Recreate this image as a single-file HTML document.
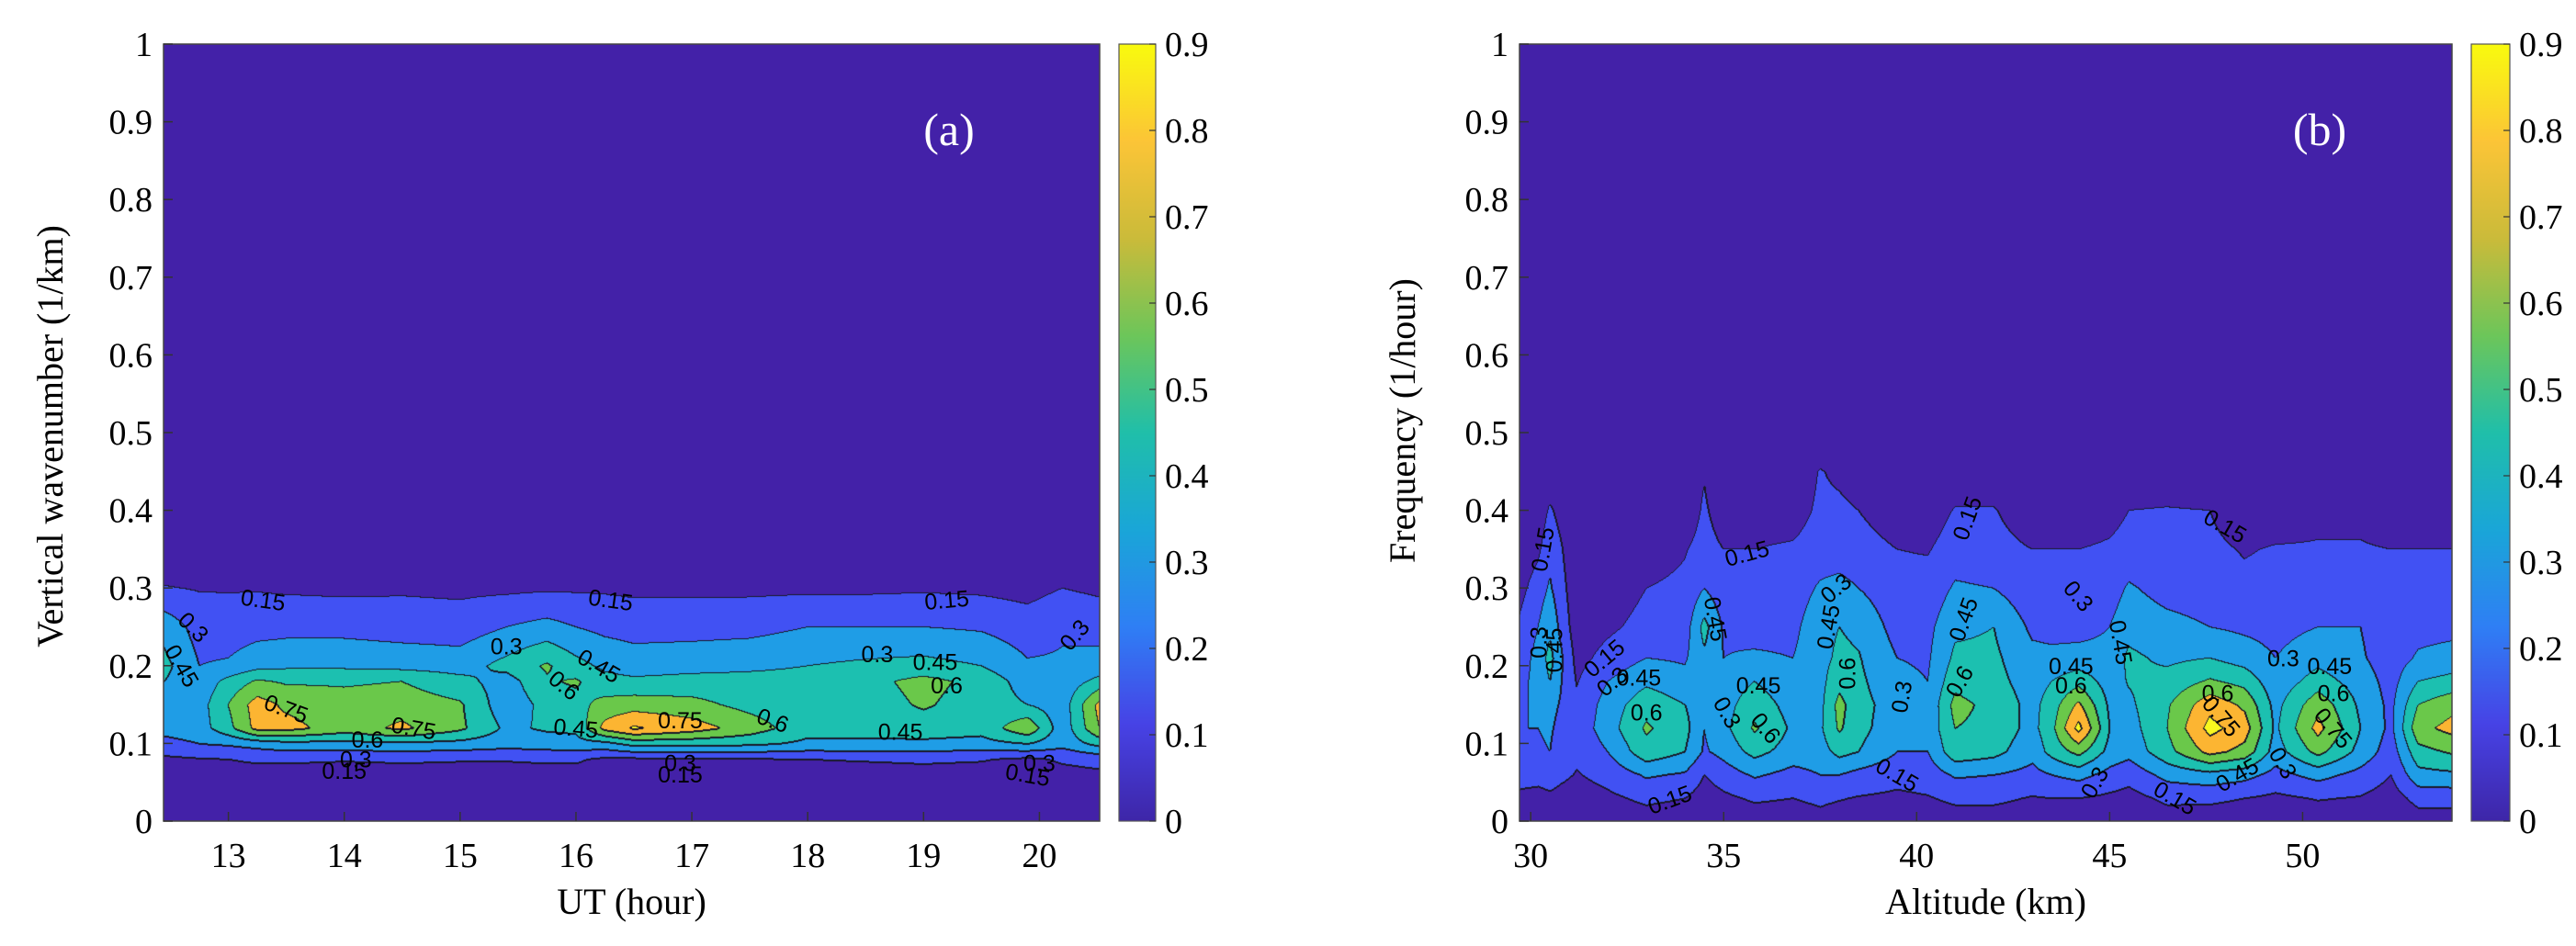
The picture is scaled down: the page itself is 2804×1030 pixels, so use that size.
<!DOCTYPE html>
<html><head><meta charset="utf-8">
<style>
html,body{margin:0;padding:0;background:#fff;}
#wrap{position:relative;width:2804px;height:1030px;overflow:hidden;}
canvas{position:absolute;}
svg{position:absolute;left:0;top:0;}
text{font-family:"Liberation Serif",serif;}
.cl{font-family:"Liberation Sans",sans-serif;font-size:25px;fill:#000;}
</style></head>
<body>
<div id="wrap">
<canvas id="ca" width="1019" height="846" style="left:178px;top:48px"></canvas>
<canvas id="cb" width="1015" height="846" style="left:1654px;top:48px"></canvas>
<canvas id="cba" width="40" height="846" style="left:1218px;top:48px"></canvas>
<canvas id="cbb" width="42" height="846" style="left:2690px;top:48px"></canvas>
<svg id="ov" width="2804" height="1030"></svg>
</div>
<script>
// ---------- Panel (a) data ----------
const aX = [12.44,12.75,13.0,13.25,13.5,14.0,14.5,15.0,15.4,15.75,16.0,16.25,16.5,17.0,17.5,18.0,18.5,19.0,19.5,19.9,20.2,20.52];
const aY = [0,0.05,0.08,0.1,0.12,0.15,0.18,0.2,0.25,0.3,0.35];
const aZ = [
[0.02,0.05,0.12,0.25,0.35,0.40,0.45,0.5,0.4,0.16,0.02],
[0.02,0.05,0.14,0.3,0.38,0.38,0.34,0.3,0.24,0.14,0.02],
[0.02,0.06,0.15,0.32,0.55,0.6,0.5,0.32,0.22,0.14,0.02],
[0.02,0.06,0.17,0.36,0.8,0.82,0.62,0.4,0.24,0.14,0.02],
[0.02,0.06,0.17,0.4,0.8,0.72,0.58,0.42,0.25,0.13,0.02],
[0.02,0.05,0.16,0.4,0.68,0.66,0.58,0.42,0.25,0.12,0.02],
[0.02,0.05,0.17,0.42,0.78,0.68,0.6,0.4,0.23,0.13,0.02],
[0.02,0.06,0.16,0.4,0.63,0.62,0.5,0.38,0.22,0.12,0.02],
[0.02,0.05,0.16,0.36,0.42,0.35,0.38,0.5,0.3,0.12,0.02],
[0.02,0.06,0.17,0.38,0.47,0.5,0.58,0.62,0.35,0.13,0.02],
[0.02,0.06,0.17,0.4,0.48,0.55,0.62,0.5,0.3,0.13,0.02],
[0.02,0.04,0.12,0.4,0.8,0.65,0.5,0.42,0.26,0.13,0.02],
[0.02,0.04,0.12,0.5,0.92,0.68,0.48,0.38,0.24,0.12,0.02],
[0.02,0.04,0.13,0.5,0.82,0.65,0.5,0.4,0.24,0.12,0.02],
[0.02,0.05,0.14,0.48,0.68,0.55,0.5,0.42,0.25,0.12,0.02],
[0.02,0.05,0.15,0.42,0.5,0.5,0.5,0.45,0.3,0.12,0.02],
[0.02,0.06,0.16,0.42,0.5,0.52,0.55,0.48,0.3,0.12,0.02],
[0.02,0.07,0.17,0.42,0.52,0.62,0.65,0.5,0.3,0.13,0.02],
[0.02,0.06,0.16,0.4,0.5,0.52,0.55,0.45,0.28,0.12,0.02],
[0.02,0.05,0.12,0.45,0.72,0.45,0.38,0.32,0.22,0.1,0.02],
[0.02,0.07,0.17,0.35,0.35,0.36,0.35,0.32,0.28,0.15,0.02],
[0.02,0.08,0.2,0.5,0.75,0.8,0.5,0.35,0.25,0.12,0.02]];
const aTicksX = [13,14,15,16,17,18,19,20];
const yTicks = [0,0.1,0.2,0.3,0.4,0.5,0.6,0.7,0.8,0.9,1];
const cbTicks = [0,0.1,0.2,0.3,0.4,0.5,0.6,0.7,0.8,0.9];
const aLabels = [["0.15",13.3,0.285,8],["0.15",16.3,0.285,8],["0.15",19.2,0.285,-5],["0.3",12.7,0.25,45],["0.45",12.6,0.2,60],["0.75",13.5,0.145,20],["0.75",14.6,0.12,10],["0.3",15.4,0.225,0],["0.45",16.2,0.2,30],["0.6",15.9,0.175,40],["0.45",16.0,0.12,5],["0.75",16.9,0.13,0],["0.6",17.7,0.13,20],["0.3",18.6,0.215,0],["0.45",19.1,0.205,0],["0.6",19.2,0.175,0],["0.45",18.8,0.115,0],["0.3",16.9,0.075,0],["0.15",16.9,0.06,0],["0.15",14.0,0.065,0],["0.3",14.1,0.08,0],["0.6",14.2,0.105,0],["0.3",20.3,0.24,-50],["0.3",20.0,0.075,0],["0.15",19.9,0.06,10]];

// ---------- Panel (b) data ----------
const bX = [29.71,30.2,30.5,30.8,31.2,32,33,34,34.5,35,35.8,36.8,37.5,38,38.5,39.5,40.3,41,42,43,43.5,44.2,45,45.5,46.5,47.6,48.5,49.3,50.4,51.5,52.3,53,53.87];
const bY = [0,0.03,0.06,0.09,0.12,0.15,0.18,0.21,0.25,0.3,0.35,0.4,0.45,0.5];
const bZ = [
[0.05,0.12,0.2,0.25,0.3,0.28,0.25,0.22,0.17,0.1,0.05,0.03,0.02,0.01],
[0.05,0.1,0.2,0.28,0.3,0.32,0.35,0.35,0.3,0.22,0.12,0.05,0.02,0.01],
[0.06,0.12,0.22,0.3,0.32,0.35,0.45,0.5,0.42,0.32,0.25,0.17,0.05,0.01],
[0.05,0.1,0.18,0.22,0.25,0.28,0.3,0.32,0.25,0.2,0.16,0.1,0.03,0.01],
[0.04,0.08,0.14,0.18,0.2,0.18,0.14,0.1,0.06,0.04,0.02,0.01,0.01,0.01],
[0.06,0.12,0.2,0.3,0.38,0.36,0.3,0.2,0.12,0.06,0.03,0.01,0.01,0.01],
[0.08,0.18,0.32,0.55,0.62,0.55,0.42,0.3,0.2,0.15,0.08,0.02,0.01,0.01],
[0.07,0.15,0.28,0.45,0.5,0.45,0.35,0.28,0.22,0.18,0.14,0.06,0.02,0.01],
[0.04,0.08,0.15,0.28,0.3,0.35,0.38,0.42,0.5,0.3,0.2,0.17,0.14,0.03],
[0.05,0.12,0.22,0.35,0.4,0.38,0.35,0.3,0.28,0.2,0.15,0.08,0.02,0.01],
[0.07,0.17,0.32,0.5,0.62,0.55,0.45,0.32,0.25,0.2,0.15,0.08,0.02,0.01],
[0.07,0.15,0.25,0.38,0.42,0.38,0.33,0.3,0.26,0.22,0.17,0.08,0.02,0.01],
[0.1,0.18,0.3,0.38,0.42,0.4,0.4,0.4,0.4,0.32,0.22,0.18,0.16,0.02],
[0.07,0.16,0.3,0.5,0.62,0.65,0.55,0.48,0.45,0.35,0.22,0.18,0.12,0.02],
[0.06,0.14,0.25,0.45,0.5,0.5,0.48,0.46,0.42,0.3,0.2,0.15,0.08,0.02],
[0.05,0.12,0.2,0.3,0.35,0.38,0.34,0.3,0.24,0.2,0.15,0.08,0.02,0.01],
[0.06,0.14,0.22,0.3,0.35,0.32,0.3,0.28,0.26,0.2,0.14,0.07,0.02,0.01],
[0.08,0.18,0.32,0.55,0.6,0.65,0.55,0.48,0.42,0.32,0.22,0.16,0.05,0.01],
[0.08,0.18,0.3,0.5,0.55,0.55,0.5,0.48,0.45,0.3,0.2,0.16,0.05,0.01],
[0.06,0.14,0.25,0.35,0.4,0.4,0.38,0.34,0.27,0.2,0.15,0.06,0.02,0.01],
[0.06,0.15,0.3,0.5,0.55,0.52,0.45,0.33,0.26,0.2,0.15,0.06,0.02,0.01],
[0.06,0.15,0.35,0.65,0.95,0.78,0.55,0.35,0.25,0.2,0.15,0.06,0.02,0.01],
[0.04,0.12,0.25,0.4,0.45,0.42,0.38,0.34,0.3,0.22,0.17,0.1,0.02,0.01],
[0.05,0.1,0.2,0.35,0.38,0.42,0.46,0.48,0.4,0.32,0.2,0.15,0.05,0.01],
[0.08,0.18,0.35,0.55,0.6,0.58,0.5,0.42,0.35,0.24,0.18,0.16,0.05,0.01],
[0.07,0.18,0.4,0.8,0.95,0.85,0.62,0.45,0.3,0.22,0.18,0.15,0.03,0.01],
[0.06,0.15,0.35,0.7,0.82,0.72,0.55,0.38,0.27,0.18,0.14,0.07,0.02,0.01],
[0.05,0.12,0.25,0.38,0.42,0.4,0.35,0.3,0.25,0.2,0.16,0.08,0.02,0.01],
[0.06,0.16,0.35,0.65,0.8,0.7,0.52,0.4,0.3,0.2,0.16,0.12,0.02,0.01],
[0.05,0.14,0.25,0.4,0.45,0.42,0.38,0.32,0.3,0.2,0.16,0.12,0.02,0.01],
[0.03,0.08,0.15,0.22,0.26,0.26,0.24,0.22,0.2,0.17,0.15,0.08,0.01,0.01],
[0.08,0.2,0.4,0.55,0.7,0.6,0.45,0.32,0.25,0.2,0.15,0.05,0.01,0.01],
[0.08,0.2,0.42,0.62,0.8,0.7,0.5,0.35,0.26,0.2,0.15,0.06,0.01,0.01]];
const bTicksX = [30,35,40,45,50];
const bLabels = [["0.15",30.3,0.35,-80],["0.15",35.6,0.345,-15],["0.15",41.3,0.39,-70],["0.15",48.0,0.38,30],["0.3",37.9,0.3,-40],["0.3",44.2,0.29,50],["0.3",49.5,0.21,0],["0.45",50.7,0.2,0],["0.6",50.8,0.165,0],["0.75",50.8,0.12,50],["0.6",47.8,0.165,0],["0.75",47.9,0.135,50],["0.45",32.8,0.185,0],["0.6",33,0.14,0],["0.45",35.9,0.175,0],["0.6",36.1,0.12,50],["0.45",37.7,0.25,-80],["0.6",38.2,0.19,-90],["0.45",41.2,0.26,-70],["0.6",41.1,0.18,-60],["0.45",44,0.2,0],["0.6",44,0.175,0],["0.45",45.3,0.23,80],["0.3",39.6,0.16,-80],["0.15",39.5,0.06,30],["0.15",33.6,0.028,-20],["0.15",46.7,0.03,30],["0.45",48.3,0.06,-30],["0.3",49.5,0.075,60],["0.3",44.6,0.05,-60],["0.3",35.1,0.14,60],["0.15",31.9,0.21,-40],["0.3",32.1,0.18,-40],["0.45",34.8,0.26,80],["0.3",30.2,0.23,-90],["0.45",30.6,0.22,-90]];

// ---------- rendering ----------
const levels=[0.15,0.3,0.45,0.6,0.75,0.9];
const bandCol=[[67,33,168],[65,81,243],[31,157,230],[28,192,176],[106,200,74],[252,181,50],[248,248,31]];
const ov=document.getElementById('ov');
const NS='http://www.w3.org/2000/svg';

function interp(xs,ys,Z,x,y){
  let i=0; while(i<xs.length-2 && x>xs[i+1]) i++;
  let tx=(x-xs[i])/(xs[i+1]-xs[i]); tx=Math.max(0,Math.min(1,tx));
  if(y>=ys[ys.length-1]) return Z[i][ys.length-1]*(1-tx)+Z[i+1][ys.length-1]*tx;
  let j=0; while(j<ys.length-2 && y>ys[j+1]) j++;
  let ty=(y-ys[j])/(ys[j+1]-ys[j]); ty=Math.max(0,Math.min(1,ty));
  const a=Z[i][j]*(1-tx)+Z[i+1][j]*tx, b=Z[i][j+1]*(1-tx)+Z[i+1][j+1]*tx;
  return a*(1-ty)+b*ty;
}
function band(v){let k=0;while(k<levels.length&&v>=levels[k])k++;return k;}

function drawField(id,xs,ys,Z,x0,x1){
  const c=document.getElementById(id),ctx=c.getContext('2d'),W=c.width,H=c.height;
  const B=new Uint8Array(W*H);
  for(let py=0;py<H;py++){const y=(H-py)/H;for(let px=0;px<W;px++){const x=x0+(px+0.5)/W*(x1-x0);B[py*W+px]=band(interp(xs,ys,Z,x,y));}}
  const img=ctx.createImageData(W,H);
  for(let py=0;py<H;py++)for(let px=0;px<W;px++){
    const k=py*W+px,b=B[k];let edge=false;
    if(px+1<W&&B[k+1]!==b)edge=true; if(px>0&&B[k-1]>b)edge=true;
    if(py+1<H&&B[k+W]!==b)edge=true; if(py>0&&B[k-W]>b)edge=true;
    const col=edge?[25,25,40]:bandCol[b];
    img.data[k*4]=col[0];img.data[k*4+1]=col[1];img.data[k*4+2]=col[2];img.data[k*4+3]=255;}
  ctx.putImageData(img,0,0);
}
function drawCB(id){
  const c=document.getElementById(id),ctx=c.getContext('2d');
  const g=ctx.createLinearGradient(0,c.height,0,0);
  [[0,'#3e26a8'],[0.125,'#4743e6'],[0.25,'#2f7ff5'],[0.375,'#1aa6d8'],[0.5,'#20bfaa'],[0.625,'#6dc65a'],[0.75,'#cbbb3a'],[0.875,'#fcc537'],[1,'#f9fb0e']].forEach(s=>g.addColorStop(s[0],s[1]));
  ctx.fillStyle=g;ctx.fillRect(0,0,c.width,c.height);
}
drawField('ca',aX,aY,aZ,12.44,20.52);
drawField('cb',bX,bY,bZ,29.71,53.87);
drawCB('cba');drawCB('cbb');

function el(tag,attrs,txt){const e=document.createElementNS(NS,tag);for(const k in attrs)e.setAttribute(k,attrs[k]);if(txt!==undefined)e.textContent=txt;ov.appendChild(e);return e;}

function axes(cfg){
  const sx=x=>cfg.L+(x-cfg.x0)/(cfg.x1-cfg.x0)*(cfg.R-cfg.L);
  const sy=y=>894-y*846;
  const box=el('rect',{x:cfg.L,y:48,width:cfg.R-cfg.L,height:846,fill:'none',stroke:'#444','stroke-width':1.5});
  
  
  cfg.xt.forEach(v=>{
    el('line',{x1:sx(v),x2:sx(v),y1:894,y2:884,stroke:'#333','stroke-width':1.5});
    const t=el('text',{x:sx(v),y:944,'font-size':38,'text-anchor':'middle'},String(v));
    
    
  });
  yTicks.forEach(v=>{
    el('line',{x1:cfg.L,x2:cfg.L+10,y1:sy(v),y2:sy(v),stroke:'#333','stroke-width':1.5});
    const t=el('text',{x:cfg.L-12,y:sy(v)+13,'font-size':38,'text-anchor':'end'},String(v));
    
    
  });
  const cbf=el('rect',{x:cfg.CB,y:48,width:cfg.CBW,height:846,fill:'none',stroke:'#555','stroke-width':1.2});
  
  
  cbTicks.forEach(v=>{
    const y=894-v/0.9*846;
    el('line',{x1:cfg.CB+cfg.CBW-7,x2:cfg.CB+cfg.CBW,y1:y,y2:y,stroke:'#333','stroke-width':1.2});
    const t=el('text',{x:cfg.CB+cfg.CBW+10,y:y+13,'font-size':38},String(v));
    
    
  });
  cfg.labels.forEach(l=>{
    const x=sx(l[1]),y=sy(l[2]);
    const t=el('text',{x:x,y:y+9,'class':'cl','text-anchor':'middle',transform:'rotate('+l[3]+' '+x+' '+y+')'},l[0]);
    
    
  });
  const xl=el('text',{x:(cfg.L+cfg.R)/2,y:995,'font-size':40,'text-anchor':'middle'},cfg.xlab);
  
  
  const yl=el('text',{x:cfg.YLX,y:cfg.YLY,'font-size':40,'text-anchor':'middle',transform:'rotate(-90 '+cfg.YLX+' '+cfg.YLY+')','xml:space':'preserve'},cfg.ylab);
  
  
  const pl=el('text',{x:cfg.PX,y:158,'font-size':50,fill:'#fff','text-anchor':'middle'},cfg.tag);
  
  
}
axes({p:'panel-a',L:178,R:1197,x0:12.44,x1:20.52,xt:aTicksX,CB:1218,CBW:40,labels:aLabels,xlab:'UT (hour)',ylab:'Vertical wavenumber  (1/km)',YLX:68,YLY:475,PX:1033,tag:'(a)'});
axes({p:'panel-b',L:1654,R:2669,x0:29.71,x1:53.87,xt:bTicksX,CB:2690,CBW:42,labels:bLabels,xlab:'Altitude (km)',ylab:'Frequency  (1/hour)',YLX:1540,YLY:458,PX:2525,tag:'(b)'});
</script>
</body></html>
